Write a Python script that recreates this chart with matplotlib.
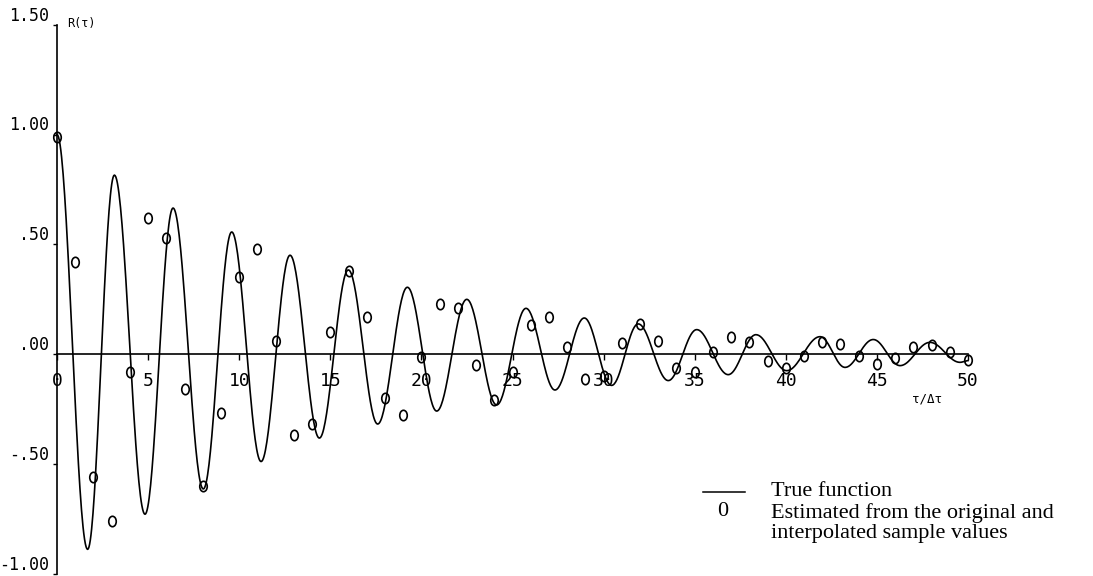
import numpy as np
import matplotlib
matplotlib.use("Agg")
import matplotlib.pyplot as plt
from matplotlib.path import Path
from matplotlib.transforms import Affine2D

# ---- data ----
# extrema (turning points) of the true function R(tau)
true_tau = [0, 1.68, 3.15, 4.83, 6.37, 8.03, 9.59, 11.2, 12.79, 14.4, 15.99,
            17.6, 19.23, 20.84, 22.49, 24.13, 25.74, 27.33, 28.94, 30.44,
            31.9, 33.55, 35.11, 36.84, 38.36, 40.05, 41.88, 43.25, 44.8,
            46.27, 47.91, 49.56, 50]
true_val = [1.0, -0.89, 0.815, -0.73, 0.665, -0.615, 0.556, -0.49, 0.45,
            -0.383, 0.383, -0.319, 0.304, -0.26, 0.249, -0.232, 0.208,
            -0.164, 0.164, -0.143, 0.137, -0.121, 0.111, -0.094, 0.088,
            -0.076, 0.079, -0.061, 0.066, -0.053, 0.053, -0.038, -0.03]

# estimated values at each lag tau/dtau = 0..50
est_tau = list(range(0, 51))
est_val = [0.99, 0.42, -0.56, -0.76, -0.08, 0.62, 0.53, -0.16, -0.60, -0.27,
           0.35, 0.48, 0.06, -0.37, -0.32, 0.10, 0.38, 0.17, -0.20, -0.28,
           -0.015, 0.23, 0.21, -0.05, -0.21, -0.08, 0.13, 0.17, 0.03, -0.115,
           -0.10, 0.05, 0.135, 0.06, -0.065, -0.08, 0.01, 0.076, 0.054, -0.03,
           -0.062, -0.008, 0.053, 0.047, -0.008, -0.045, -0.02, 0.03, 0.041,
           0.008, -0.026]

x_ticks = [0, 5, 10, 15, 20, 25, 30, 35, 40, 45, 50]
x_ticklabels = ["0", "5", "10", "15", "20", "25", "30", "35", "40", "45", "50"]
y_ticks = [-1.0, -0.5, 0.0, 0.5, 1.0, 1.5]
y_ticklabels = ["-1.00", "-.50", ".00", ".50", "1.00", "1.50"]

legend_line_label = "True function"
legend_marker_lines = ["Estimated from the original and",
                       "interpolated sample values"]

# ---- drawing ----
fig = plt.figure(figsize=(10.93, 5.76), dpi=100)
W, H = 1093, 576
y_top_px, y_bot_px = 24.75, 573.5
ax = fig.add_axes([57 / W, (H - y_bot_px) / H, (968 - 57) / W,
                   (y_bot_px - y_top_px) / H])
ax.set_xlim(0, 50)
ax.set_ylim(-1.0, 1.5)

# smooth rendering between the read turning points (half-cosine segments)
xs, ys = [], []
for i in range(len(true_tau) - 1):
    t0, t1 = true_tau[i], true_tau[i + 1]
    v0, v1 = true_val[i], true_val[i + 1]
    s = np.linspace(0, 1, 40, endpoint=False)
    xs.extend(t0 + (t1 - t0) * s)
    ys.extend((v0 + v1) / 2 + (v0 - v1) / 2 * np.cos(np.pi * s))
xs.append(true_tau[-1]); ys.append(true_val[-1])
ax.plot(xs, ys, color="black", lw=1.2, zorder=3, clip_on=False)

oval = Path.unit_circle().transformed(Affine2D().scale(0.72, 1.0))
ax.plot(est_tau, est_val, linestyle="none", marker=oval, markersize=7.5,
        markerfacecolor="none", markeredgecolor="black", markeredgewidth=1.2,
        zorder=4, clip_on=False)

# axes styling
for s in ("top", "right"):
    ax.spines[s].set_visible(False)
ax.spines["bottom"].set_position(("data", 0))
ax.spines["left"].set_linewidth(1.2)
ax.spines["bottom"].set_linewidth(1.2)
mono = "DejaVu Sans Mono"
ax.set_xticks(x_ticks)
ax.set_xticklabels(x_ticklabels, family=mono, fontsize=13)
ax.set_yticks(y_ticks)
ax.set_yticklabels(y_ticklabels, family=mono, fontsize=12)
for lbl in ax.get_yticklabels():
    lbl.set_verticalalignment("bottom")
ax.tick_params(axis="x", direction="out", length=4, width=1, pad=9)
ax.tick_params(axis="y", direction="out", length=3, width=1, pad=3)
ax.patch.set_visible(False)

fig.text(67 / W, 1 - 24 / H, "R(τ)", family=mono, fontsize=8.5,
         va="center", ha="left")
fig.text(912 / W, 1 - 399 / H, "τ/Δτ", family=mono, fontsize=9,
         va="center", ha="left")

# legend drawn as text block
serif = "Liberation Serif"
fig.add_artist(plt.Line2D([703 / W, 745 / W], [1 - 491.5 / H, 1 - 491.5 / H],
                          color="black", lw=1.1))
fig.text(771 / W, 1 - 492 / H, legend_line_label, family=serif, fontsize=16,
         va="center", ha="left")
fig.text(723 / W, 1 - 512 / H, "0", family=serif, fontsize=16,
         va="center", ha="center")
for k, line in enumerate(legend_marker_lines):
    fig.text(771 / W, 1 - (513 + 20.5 * k) / H, line, family=serif,
             fontsize=16, va="center", ha="left")

fig.savefig("out.png", dpi=100)
